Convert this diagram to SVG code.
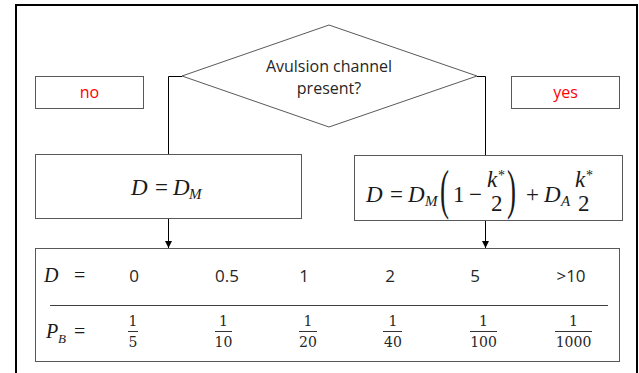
<svg xmlns="http://www.w3.org/2000/svg" width="639" height="373" viewBox="0 0 639 373">
<style>
.box{fill:#fff;stroke:#595959;stroke-width:1}
.frame{fill:none;stroke:#000;stroke-width:2}
.conn{fill:none;stroke:#000;stroke-width:1}
.sans{font-family:"Open Sans","Liberation Sans",sans-serif;font-size:16px;fill:#262626;text-anchor:middle}
.val{font-size:17px}
.red{fill:#ff0000}
.mi{font-family:"Liberation Serif","DejaVu Serif",serif;font-style:italic;fill:#1a1a1a}
.mu{font-family:"Liberation Serif","DejaVu Serif",serif;fill:#1a1a1a}
.num{font-family:"DejaVu Serif","Liberation Serif",serif;font-size:14px;fill:#262626;text-anchor:middle}
.fl{stroke:#333;stroke-width:1}
</style>
<defs>
<marker id="arr" markerUnits="userSpaceOnUse" markerWidth="7" markerHeight="7" refX="7" refY="3.5" orient="auto">
<path d="M0,0 L7,3.5 L0,7 z" fill="#000"/>
</marker>
</defs>
<rect class="frame" x="16" y="5" width="621" height="380"/>
<g id="connectors">
<path class="conn" d="M182,76.5 H168.5 V154"/>
<path class="conn" d="M477,76.5 H485.5 V155"/>
<line class="conn" x1="168.5" y1="219" x2="168.5" y2="248" marker-end="url(#arr)"/>
<line class="conn" x1="485.5" y1="221" x2="485.5" y2="248" marker-end="url(#arr)"/>
</g>
<g id="decision">
<polygon class="box" points="182,76 329,25 477,76 329,127"/>
<text class="sans" x="329" y="72">Avulsion channel</text>
<text class="sans" x="329" y="94">present?</text>
</g>
<g id="no">
<rect class="box" x="35.5" y="76.5" width="108" height="32"/>
<text class="sans red" x="89.5" y="98">no</text>
</g>
<g id="yes">
<rect class="box" x="511.5" y="76.5" width="108" height="32"/>
<text class="sans red" x="565.5" y="98">yes</text>
</g>
<g id="formula-no">
<rect class="box" x="35.5" y="154.5" width="266" height="64"/>
<text class="mi" font-size="23" x="131" y="195">D</text>
<text class="mu" font-size="23" x="155" y="195">=</text>
<text class="mi" font-size="23" x="173" y="195">D</text>
<text class="mi" font-size="15" x="189" y="199">M</text>
</g>
<g id="formula-yes">
<rect class="box" x="354.5" y="155.5" width="268" height="65"/>
<text class="mi" font-size="23" x="366" y="202">D</text>
<text class="mu" font-size="23" x="390" y="202">=</text>
<text class="mi" font-size="23" x="408" y="202">D</text>
<text class="mi" font-size="15" x="425" y="206">M</text>
<text class="mu" font-size="54" transform="translate(440,208) scale(0.5,1)">(</text>
<text class="mu" font-size="23" x="453" y="202">1</text>
<text class="mu" font-size="23" x="469" y="202">−</text>
<text class="mi" font-size="23" x="487" y="187">k</text>
<text class="mu" font-size="14" x="498" y="180">*</text>
<text class="mu" font-size="23" x="491" y="211">2</text>
<text class="mu" font-size="54" transform="translate(507,208) scale(0.5,1)">)</text>
<text class="mu" font-size="23" x="526" y="202">+</text>
<text class="mi" font-size="23" x="544" y="202">D</text>
<text class="mi" font-size="15" x="561" y="206">A</text>
<text class="mi" font-size="23" x="575" y="187">k</text>
<text class="mu" font-size="14" x="586" y="180">*</text>
<text class="mu" font-size="23" x="578" y="211">2</text>
</g>
<g id="table">
<rect class="box" x="35.5" y="248.5" width="584" height="113"/>
<line x1="50" y1="305.5" x2="608" y2="305.5" stroke="#404040" stroke-width="1"/>
<text class="mi" font-size="20" x="44" y="282">D</text>
<text class="mu" font-size="20" x="74" y="282">=</text>
<text class="sans val" x="134" y="282">0</text>
<text class="sans val" x="227" y="282">0.5</text>
<text class="sans val" x="304" y="282">1</text>
<text class="sans val" x="390" y="282">2</text>
<text class="sans val" x="475" y="282">5</text>
<text class="sans val" x="571" y="282">&gt;10</text>
<text class="mi" font-size="20" x="46" y="338">P</text>
<text class="mi" font-size="13" x="58" y="343">B</text>
<text class="mu" font-size="20" x="74" y="338">=</text>
<text class="num" x="133" y="326">1</text><line class="fl" x1="128" y1="331.5" x2="138" y2="331.5"/><text class="num" x="133" y="347">5</text>
<text class="num" x="223.5" y="326">1</text><line class="fl" x1="215" y1="331.5" x2="232" y2="331.5"/><text class="num" x="223.5" y="347">10</text>
<text class="num" x="308" y="326">1</text><line class="fl" x1="299" y1="331.5" x2="317" y2="331.5"/><text class="num" x="308" y="347">20</text>
<text class="num" x="393" y="326">1</text><line class="fl" x1="383" y1="331.5" x2="402" y2="331.5"/><text class="num" x="393" y="347">40</text>
<text class="num" x="483.5" y="326">1</text><line class="fl" x1="470" y1="331.5" x2="497" y2="331.5"/><text class="num" x="483.5" y="347">100</text>
<text class="num" x="573.5" y="326">1</text><line class="fl" x1="555" y1="331.5" x2="592" y2="331.5"/><text class="num" x="573.5" y="347">1000</text>
</g>
</svg>
